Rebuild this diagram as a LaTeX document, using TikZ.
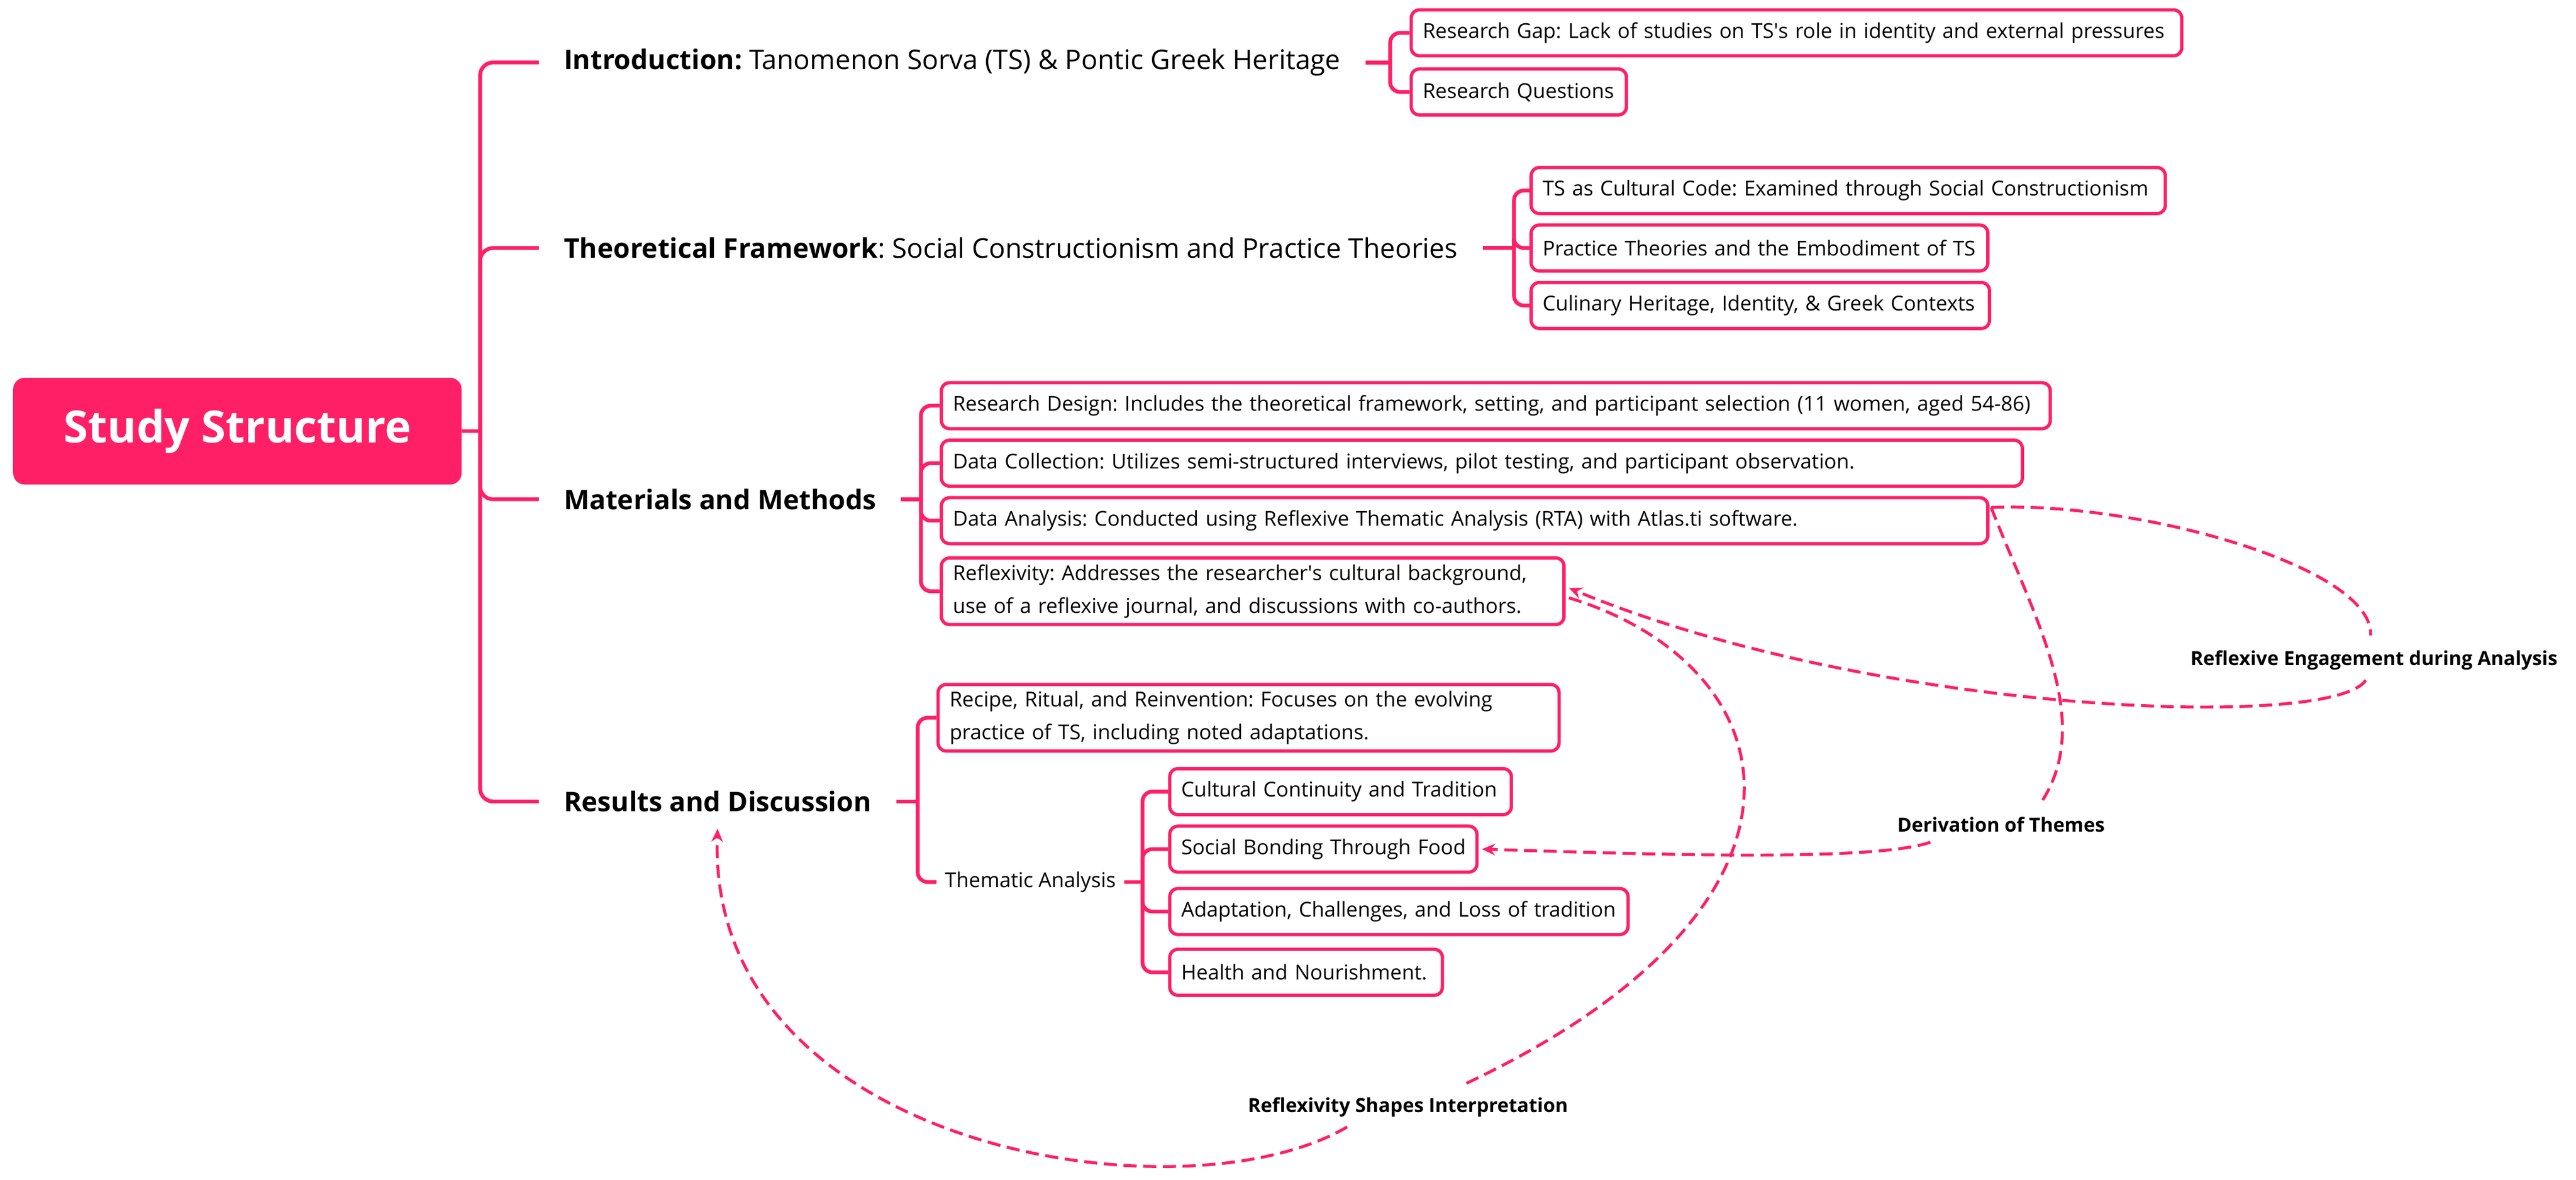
\documentclass[tikz,border=0pt]{standalone}
\usepackage{fontspec}
\setmainfont{Open Sans}
\usetikzlibrary{arrows.meta,calc}
\definecolor{pk}{HTML}{FF1F66}
\frenchspacing
\begin{document}
\begin{tikzpicture}[x=1pt,y=-1pt,
  rootbox/.style={fill=pk, rounded corners=7pt, text=white, font=\fontsize{27}{32}\selectfont\bfseries, minimum width=273pt, minimum height=65pt, inner sep=0pt},
  lone/.style={font=\fontsize{16.5}{20}\selectfont, inner xsep=15pt, inner ysep=3pt, anchor=west},
  tbox/.style={draw=pk, line width=2pt, rounded corners=5pt, fill=white, font=\fontsize{12.5}{20}\selectfont, inner xsep=7pt, inner ysep=4pt, minimum height=28pt, anchor=west, align=left},
  conn/.style={draw=pk, line width=2.3pt},
  rel/.style={draw=pk, line width=1.8pt, dash pattern=on 8pt off 4pt},
  relarrow/.style={rel, -{Stealth[length=8pt,width=7pt]}},
  rlab/.style={font=\fontsize{11.8}{14}\selectfont\bfseries, inner sep=6pt}
]
\useasboundingbox (0,0) rectangle (1568,718.45);
\fill[white] (0,0) rectangle (1568,718.45);

% root and main topics
\node[rootbox] (root) at (144.5,262.5) {Study Structure};
\node[lone] (intro) at (328,38) {\textbf{Introduction:} Tanomenon Sorva (TS) \& Pontic Greek Heritage};
\node[lone] (theo) at (328,151) {\textbf{Theoretical Framework}: Social Constructionism and Practice Theories};
\node[lone] (mat) at (328,304) {\textbf{Materials and Methods}};
\node[lone] (res) at (328,488) {\textbf{Results and Discussion}};

% introduction
\node[tbox, text width=455pt] (gap) at (858,20) {\mbox{Research Gap: Lack of studies on TS\textquotesingle s role in identity and external pressures}};
\node[tbox, text width=117pt] (rq) at (858,56) {\mbox{Research Questions}};

% theory
\node[tbox, text width=372pt] (tsc) at (931,116) {\mbox{TS as Cultural Code: Examined through Social Constructionism}};
\node[tbox, text width=264pt] (prac) at (931,151) {\mbox{Practice Theories and the Embodiment of TS}};
\node[tbox, text width=265pt] (cul) at (931,186) {\mbox{Culinary Heritage, Identity, \& Greek Contexts}};

% methods
\node[tbox, text width=661pt] (des) at (572,247) {\mbox{Research Design: Includes the theoretical framework, setting, and participant selection (11 women, aged 54-86)}};
\node[tbox, text width=644pt] (col) at (572,282) {\mbox{Data Collection: Utilizes semi-structured interviews, pilot testing, and participant observation.}};
\node[tbox, text width=623pt] (ana) at (572,317) {\mbox{Data Analysis: Conducted using Reflexive Thematic Analysis (RTA) with Atlas.ti software.}};
\node[tbox, text width=365pt] (refl) at (572,360) {\mbox{Reflexivity: Addresses the researcher\textquotesingle s cultural background,}\\\mbox{use of a reflexive journal, and discussions with co-authors.}};

% results
\node[tbox, text width=364pt] (rec) at (570,437) {\mbox{Recipe, Ritual, and Reinvention: Focuses on the evolving}\\\mbox{practice of TS, including noted adaptations.}};
\node[lone, font=\fontsize{12.5}{20}\selectfont, inner xsep=5pt] (them) at (570,537) {Thematic Analysis};
\node[tbox, text width=194pt] (cc) at (711,482) {\mbox{Cultural Continuity and Tradition}};
\node[tbox, text width=173pt] (sb) at (711,517) {\mbox{Social Bonding Through Food}};
\node[tbox, text width=265pt] (ad) at (711,555) {\mbox{Adaptation, Challenges, and Loss of tradition}};
\node[tbox, text width=152pt] (hn) at (711,592) {\mbox{Health and Nourishment.}};

% tree connectors
\draw[conn] (root.east) -- ++(11,0) coordinate (rootv);
\foreach \c in {intro,theo,mat,res} \draw[conn, rounded corners=8pt] (rootv) |- (\c.west);
\draw[conn] (intro.east) -- ++(15,0) coordinate (introv);
\foreach \c in {gap,rq} \draw[conn, rounded corners=6pt] (introv) |- (\c.west);
\draw[conn] (theo.east) -- ++(19,0) coordinate (theov);
\foreach \c in {tsc,prac,cul} \draw[conn, rounded corners=6pt] (theov) |- (\c.west);
\draw[conn] (mat.east) -- ++(12,0) coordinate (matv);
\foreach \c in {des,col,ana,refl} \draw[conn, rounded corners=6pt] (matv) |- (\c.west);
\draw[conn] (res.east) -- ++(13,0) coordinate (resv);
\foreach \c in {rec,them} \draw[conn, rounded corners=6pt] (resv) |- (\c.west);
\draw[conn] (them.east) -- ++(11,0) coordinate (themv);
\foreach \c in {cc,sb,ad,hn} \draw[conn, rounded corners=6pt] (themv) |- (\c.west);

% relationship labels
\node[rlab] (rel1) at (1445,402) {Reflexive Engagement during Analysis};
\node[rlab] (rel2) at (1218,502) {Derivation of Themes};
\node[rlab] (rel3) at (857,674) {Reflexivity Shapes Interpretation};

% relationships
\coordinate (anastart) at ($(ana.north east)+(1,7)$);
\draw[rel] (anastart) .. controls (1300,305) and (1445,345) .. ($(rel1.north)+(-2,-3)$);
\draw[relarrow] ($(rel1.south)+(-5,0)$) .. controls (1420,445) and (1140,435) .. ($(refl.east)+(2,-2)$);

\draw[rel] (anastart) .. controls (1240,380) and (1275,440) .. ($(rel2.north)+(24,-2)$);
\draw[relarrow] ($(rel2.south)+(-43,0)$) .. controls (1140,525) and (1000,520) .. ($(sb.east)+(2,0)$);

\draw[rel] ($(refl.east)+(2,4)$) .. controls (1090,405) and (1125,550) .. ($(rel3.north)+(35,-2)$);
\draw[relarrow] ($(rel3.south)+(-37,0)$) .. controls (720,745) and (430,700) .. ($(res.south)+(0,7)$);
\end{tikzpicture}
\end{document}
